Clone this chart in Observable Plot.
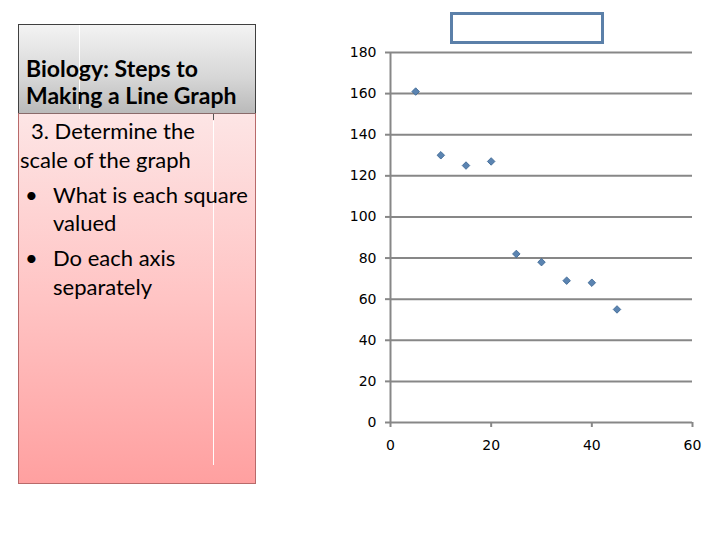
<!DOCTYPE html>
<html>
<head>
<meta charset="utf-8">
<script src="https://cdn.jsdelivr.net/npm/d3@7"></script>
<script src="https://cdn.jsdelivr.net/npm/@observablehq/plot@0.6"></script>
<style>
  html, body { margin: 0; padding: 0; background: #fff; }
  #page { position: relative; width: 720px; height: 540px; overflow: hidden; background: #fff; font-family: Lato, "Open Sans", sans-serif; }
  .panel-head { position: absolute; left: 18px; top: 24px; width: 236px; height: 89px;
    background: linear-gradient(#f3f3f3, #d6d6d6 60%, #b9b9b9); border: 1px solid #404040; border-bottom: none; }
  .panel-body { position: absolute; left: 18px; top: 113px; width: 236px; height: 369px;
    background: linear-gradient(#fde5e5, #ffc4c4 50%, #ffa0a0); border: 1px solid #b86a6a; border-top: 1px solid #8a6a6a; }
  .vline { position: absolute; width: 1px; background: rgba(255,255,255,0.95); }
  .line { position: absolute; white-space: nowrap; color: #000; line-height: 1; }
  .title { font-weight: bold; font-size: 23px; left: 26px; }
  .body { font-size: 22px; }
  #placeholder { position: absolute; left: 450px; top: 12px; width: 148px; height: 26px; border: 3px solid #5b80a9; background: #fff; }
  #chart { position: absolute; left: 330px; top: 30px; }
</style>
</head>
<body>
<div id="page">
  <div class="panel-head"></div>
  <div class="panel-body"></div>
  <div class="vline" style="left:79px; top:25px; height:84px;"></div>
  <div class="vline" style="left:213px; top:121px; height:344px;"></div>
  <div style="position:absolute; left:213px; top:114px; width:1px; height:6px; background:#555;"></div>

  <div class="line title" style="top:57px;">Biology: Steps to</div>
  <div class="line title" style="top:84px;">Making a Line Graph</div>
  <div class="line body" style="left:31px; top:120px;">3. Determine the</div>
  <div class="line body" style="left:20px; top:149px;">scale of the graph</div>
  <div class="line body" style="left:25px; top:184px;">•</div>
  <div class="line body" style="left:53px; top:184px;">What is each square</div>
  <div class="line body" style="left:53px; top:212px;">valued</div>
  <div class="line body" style="left:25px; top:247px;">•</div>
  <div class="line body" style="left:53px; top:247px;">Do each axis</div>
  <div class="line body" style="left:53px; top:275.5px;">separately</div>

  <div id="placeholder"></div>
  <div id="chart"></div>
</div>
<script>
const xValues = [5, 10, 15, 20, 25, 30, 35, 40, 45];
const yValues = [161, 130, 125, 127, 82, 78, 69, 68, 55];
const xTicks = [0, 20, 40, 60];
const yTicks = [0, 20, 40, 60, 80, 100, 120, 140, 160, 180];

const points = xValues.map((x, i) => ({x, y: yValues[i]}));
const axisGray = "#878787";

const chart = Plot.plot({
  width: 390,
  height: 430,
  marginLeft: 60,
  marginRight: 28,
  marginTop: 22,
  marginBottom: 38,
  style: {fontFamily: "'DejaVu Sans', sans-serif", fontSize: "14px", color: "#000", background: "transparent"},
  x: {domain: [0, 60]},
  y: {domain: [0, 180]},
  marks: [
    Plot.gridY(yTicks.filter(d => d > 0), {stroke: axisGray, strokeOpacity: 1, strokeWidth: 2}),
    Plot.ruleX([0], {stroke: axisGray, strokeWidth: 2}),
    Plot.ruleY([0], {stroke: axisGray, strokeWidth: 2}),
    Plot.axisY(yTicks, {tickSize: 5, tickPadding: 9, stroke: axisGray, strokeWidth: 2, fill: "#000", fontSize: 14, label: null}),
    Plot.axisX(xTicks, {tickSize: 5, tickPadding: 13, stroke: axisGray, strokeWidth: 2, fill: "#000", fontSize: 14, label: null}),
    Plot.dot(points, {x: "x", y: "y", symbol: "square", rotate: 45, r: 3, fill: "#5b84b1", stroke: "#3b6592", strokeWidth: 0.8})
  ]
});
document.getElementById("chart").appendChild(chart);
</script>
</body>
</html>
